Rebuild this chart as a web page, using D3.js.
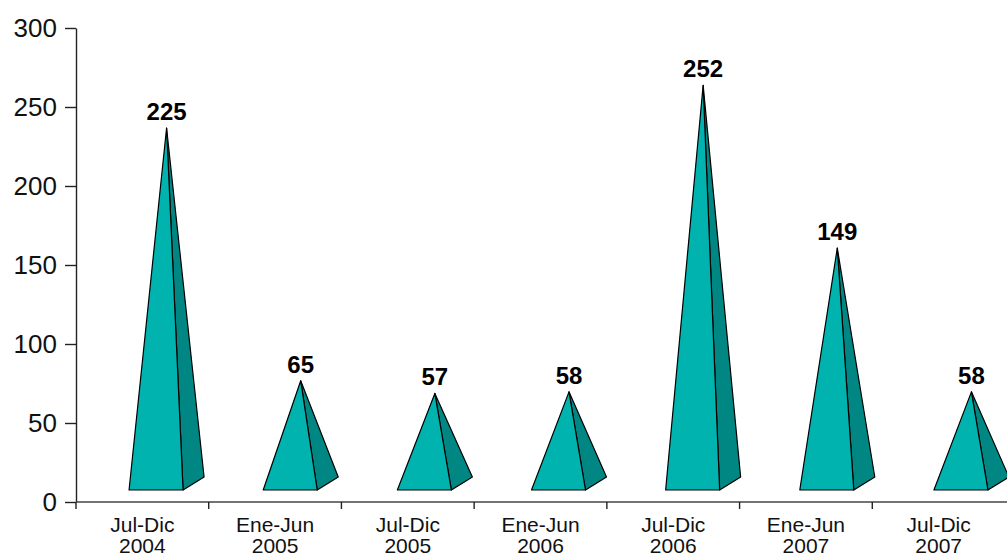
<!DOCTYPE html>
<html>
<head>
<meta charset="utf-8">
<script src="https://cdn.jsdelivr.net/npm/d3@7"></script>
<style>
  html, body { margin: 0; padding: 0; background: #fff; }
  text { font-family: "Liberation Sans", Arial, sans-serif; }
</style>
</head>
<body>
<div id="chart"></div>
<script>
"use strict";

// data
const categories = ["Jul-Dic 2004", "Ene-Jun 2005", "Jul-Dic 2005", "Ene-Jun 2006",
                    "Jul-Dic 2006", "Ene-Jun 2007", "Jul-Dic 2007"];
const values = [225, 65, 57, 58, 252, 149, 58];
const yTicks = [0, 50, 100, 150, 200, 250, 300];

const width = 1007, height = 557;
const plotLeft = 76, plotRight = 1005, plotTop = 28, plotBottom = 502;

// pyramid look
const frontColor = "#00b3af", sideColor = "#008784";
const baseW = 54;             // front edge of the base
const depth = [21, -13];      // 3d offset of the back plane
const lift = 12;              // floor sits above the axis line

const svg = d3.select("#chart")
  .append("svg")
  .attr("width", width)
  .attr("height", height);

const x = d3.scaleBand()
  .domain(categories)
  .range([plotLeft, plotRight]);

// the 3d floor is a bit wider and shifted right of the axis
const xFloor = d3.scaleBand()
  .domain(categories)
  .range([89, 1028]);

const y = d3.scaleLinear()
  .domain([0, 300])
  .range([plotBottom, plotTop]);

// y axis
const yAxis = svg.append("g")
  .attr("transform", `translate(${plotLeft},0)`)
  .call(d3.axisLeft(y).tickValues(yTicks).tickSize(11).tickSizeOuter(0).tickPadding(8));
yAxis.select(".domain").attr("stroke", "#222").attr("stroke-width", 1.4);
yAxis.selectAll(".tick line").attr("stroke", "#222").attr("stroke-width", 1.4);
yAxis.selectAll(".tick text")
  .attr("font-size", 26)
  .attr("fill", "#111")
  .style("font-family", "'Liberation Sans', Arial, sans-serif");

// x axis: line + ticks on the category borders
const xAxis = svg.append("g")
  .attr("transform", `translate(0,${plotBottom})`)
  .call(d3.axisBottom(x).tickSize(0).tickSizeOuter(0).tickFormat(""));
xAxis.select(".domain")
  .attr("d", `M${plotLeft},0H${width}`)
  .attr("stroke", "#444").attr("stroke-width", 1.6);

xAxis.selectAll(".border")
  .data(categories)
  .join("line")
    .attr("class", "border")
    .attr("x1", d => x(d)).attr("x2", d => x(d))
    .attr("y1", 0).attr("y2", 7)
    .attr("stroke", "#222").attr("stroke-width", 1.4);

// two-line category labels, one text per line
const labelRows = svg.append("g")
  .selectAll("g")
  .data(categories)
  .join("g")
    .attr("transform", d => `translate(${x(d) + x.bandwidth() / 2},${plotBottom + 30})`);

labelRows.selectAll("text")
  .data(d => d.split(" "))
  .join("text")
    .attr("y", (d, i) => i * 21)
    .attr("text-anchor", "middle")
    .attr("font-size", 21)
    .attr("fill", "#111")
    .text(d => d);

// pyramids
const pyr = svg.append("g")
  .selectAll("g")
  .data(categories.map((c, i) => ({ cat: c, value: values[i] })))
  .join("g");

function geom(d) {
  const cx = xFloor(d.cat) + xFloor.bandwidth() / 2;
  const yb = y(0) - lift;
  const fl = [cx - baseW / 2, yb];
  const fr = [cx + baseW / 2, yb];
  const br = [fr[0] + depth[0], fr[1] + depth[1]];
  const apex = [cx + depth[0] / 2, y(d.value) - lift + depth[1] / 2];
  return { fl, fr, br, apex };
}

const line = d3.line();

pyr.append("path")
  .attr("d", d => { const g = geom(d); return line([g.fr, g.br, g.apex]) + "Z"; })
  .attr("fill", sideColor)
  .attr("stroke", "#000")
  .attr("stroke-width", 1.2)
  .attr("stroke-linejoin", "round");

pyr.append("path")
  .attr("d", d => { const g = geom(d); return line([g.fl, g.fr, g.apex]) + "Z"; })
  .attr("fill", frontColor)
  .attr("stroke", "#000")
  .attr("stroke-width", 1.2)
  .attr("stroke-linejoin", "round");

pyr.append("text")
  .attr("x", d => geom(d).apex[0])
  .attr("y", d => geom(d).apex[1] - 8)
  .attr("text-anchor", "middle")
  .attr("font-size", 24)
  .attr("font-weight", "bold")
  .attr("fill", "#000")
  .text(d => d.value);
</script>
</body>
</html>
